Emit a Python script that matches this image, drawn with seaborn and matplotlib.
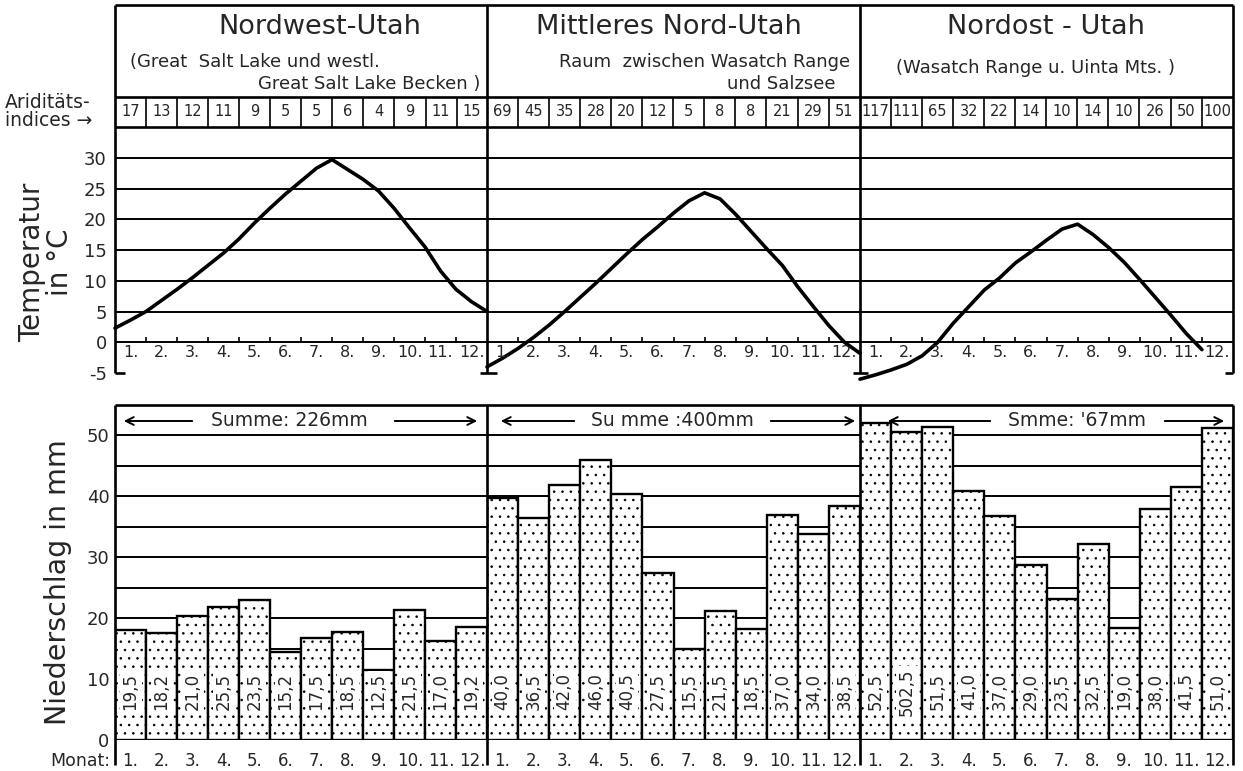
#
#   Klimadiagramme Utah: Ariditaetsindices, Temperatur und Niederschlag
#

import numpy as np
import pandas as pd
import matplotlib
matplotlib.use("Agg")
import matplotlib.pyplot as plt
import seaborn as sns

# ---- data ----
months = list(range(1, 13))
month_labels = [f"{m}." for m in months]

titles = ["Nordwest-Utah", "Mittleres Nord-Utah", "Nordost - Utah"]

aridity_nw = [17, 13, 12, 11, 9, 5, 5, 6, 4, 9, 11, 15]
aridity_mid = [69, 45, 35, 28, 20, 12, 5, 8, 8, 21, 29, 51]
aridity_ne = [117, 111, 65, 32, 22, 14, 10, 14, 10, 26, 50, 100]

# temperature curve read every half month (x = month)
temp_x = [0.5, 1.0, 1.5, 2.0, 2.5, 3.0, 3.5, 4.0, 4.5, 5.0, 5.5, 6.0, 6.5,
          7.0, 7.5, 8.0, 8.5, 9.0, 9.5, 10.0, 10.5, 11.0, 11.5, 12.0, 12.5]
temp_nw = [2.3, 3.6, 5.0, 6.8, 8.6, 10.5, 12.5, 14.5, 16.8, 19.4, 21.8, 24.1, 26.2,
           28.3, 29.7, 28.1, 26.5, 24.6, 21.8, 18.6, 15.5, 11.6, 8.6, 6.6, 5.0]
temp_mid = [-4.0, -2.6, -1.0, 0.8, 2.8, 5.0, 7.3, 9.6, 12.0, 14.4, 16.7, 18.8, 21.0,
            23.0, 24.3, 23.3, 20.8, 18.0, 15.2, 12.5, 9.0, 5.8, 2.7, 0.0, -1.8]
temp_ne = [-6.0, -5.3, -4.5, -3.6, -2.2, 0.0, 3.1, 5.8, 8.5, 10.5, 12.9, 14.7, 16.6,
           18.4, 19.2, 17.5, 15.4, 13.0, 10.2, 7.3, 4.4, 1.4, -1.2, np.nan, np.nan]

# bar heights as drawn, and the numbers printed in the bars
precip_nw = [18.1, 17.5, 20.3, 21.9, 23.0, 14.5, 16.7, 17.7, 11.5, 21.3, 16.3, 18.6]
precip_mid = [39.8, 36.5, 41.9, 45.9, 40.4, 27.4, 14.9, 21.1, 18.2, 36.9, 33.9, 38.4]
precip_ne = [52.1, 50.5, 51.4, 40.8, 36.8, 28.7, 23.1, 32.2, 18.4, 38.0, 41.5, 51.3]

label_nw = ["19,5", "18,2", "21,0", "25,5", "23,5", "15,2", "17,5", "18,5", "12,5", "21,5", "17,0", "19,2"]
label_mid = ["40,0", "36,5", "42,0", "46,0", "40,5", "27,5", "15,5", "21,5", "18,5", "37,0", "34,0", "38,5"]
label_ne = ["52,5", "502,5", "51,5", "41,0", "37,0", "29,0", "23,5", "32,5", "19,0", "38,0", "41,5", "51,0"]

sums = ["Summe: 226mm", "Su mme :400mm", "Smme: '67mm"]

aridity = [aridity_nw, aridity_mid, aridity_ne]
temps = [temp_nw, temp_mid, temp_ne]
precips = [precip_nw, precip_mid, precip_ne]
labels = [label_nw, label_mid, label_ne]

# ---- layout (pixels) ----
W, H = 1243, 771
PX = [115, 487, 860, 1233]
MW = (PX[3] - PX[0]) / 36.0


def rect(x0, y0, x1, y1):
    return [x0 / W, 1 - y1 / H, (x1 - x0) / W, (y1 - y0) / H]


sns.set_style("white")
plt.rcParams["font.family"] = ["DejaVu Sans"]
plt.rcParams["hatch.linewidth"] = 0.6

fig = plt.figure(figsize=(W / 100, H / 100), dpi=100)

for i in range(3):
    # temperature
    ax_t = fig.add_axes(rect(PX[i], 127, PX[i + 1], 373))
    for v in range(0, 31, 5):
        ax_t.axhline(v, color="k", lw=1.4, zorder=1)
    ax_t.vlines(np.arange(1.5, 12.5), 0, 0.9, color="k", lw=1.2)
    df_t = pd.DataFrame({"Monat": temp_x, "Temperatur": temps[i]})
    sns.lineplot(data=df_t, x="Monat", y="Temperatur", ax=ax_t, color="k",
                 lw=2.6, clip_on=False, zorder=3, solid_joinstyle="round",
                 solid_capstyle="round")
    for m, lab in zip(months, month_labels):
        ax_t.text(m, -1.7, lab, ha="center", va="center", fontsize=11.5)
    ax_t.set_xlim(0.5, 12.5)
    ax_t.set_ylim(-5, 35)
    ax_t.set(xlabel="", ylabel="")
    ax_t.set_xticks([])

    # precipitation
    ax_p = fig.add_axes(rect(PX[i], 405, PX[i + 1], 740))
    for v in range(5, 51, 5):
        ax_p.axhline(v, color="k", lw=1.4, zorder=0)
    df_p = pd.DataFrame({"Monat": months, "Niederschlag": precips[i]})
    sns.barplot(data=df_p, x="Monat", y="Niederschlag", ax=ax_p, native_scale=True,
                width=1, color="white", saturation=1, edgecolor="k", linewidth=1.7,
                hatch="..", errorbar=None, zorder=2)
    for m, lab in zip(months, labels[i]):
        ax_p.text(m, 7.9, lab, rotation=90, ha="center", va="center", fontsize=12,
                  zorder=4, bbox=dict(fc="white", ec="none", pad=1.5))
    ax_p.set_xlim(0.5, 12.5)
    ax_p.set_ylim(0, 55)
    ax_p.set(xlabel="", ylabel="")
    ax_p.set_xticks([])

    for ax in (ax_t, ax_p):
        for s in ax.spines.values():
            s.set_visible(False)
        ax.patch.set_visible(False)
        ax.tick_params(length=0)

    if i == 0:
        ax_t.set_yticks(range(-5, 31, 5), labels=[str(v) for v in range(-5, 31, 5)])
        ax_t.tick_params(axis="y", pad=6, labelsize=13)
        ax_p.set_yticks(range(0, 51, 10), labels=[str(v) for v in range(0, 51, 10)])
        ax_p.tick_params(axis="y", pad=4, labelsize=13)
    else:
        ax_t.set_yticks([])
        ax_p.set_yticks([])

# ---- overlay in pixel coordinates: frames and texts ----
ov = fig.add_axes([0, 0, 1, 1])
ov.set_xlim(0, W)
ov.set_ylim(H, 0)
ov.axis("off")

lw_f = 1.9
ov.hlines([5, 97, 127, 405], PX[0], PX[3], color="k", lw=lw_f)
ov.vlines(PX, 5, 373, color="k", lw=lw_f)
ov.vlines(PX, 405, 765, color="k", lw=lw_f)
ov.hlines([373] * 4, [115, 480, 853, 1225], [125, 497, 868, 1233], color="k", lw=lw_f)
for i in range(3):
    for k in range(1, 12):
        ov.vlines(PX[i] + k * MW, 97, 127, color="k", lw=1.2)
    for m, a in zip(months, aridity[i]):
        ov.text(PX[i] + (m - 0.5) * MW, 112, str(a), ha="center", va="center",
                fontsize=10.5)
    for m, lab in zip(months, month_labels):
        ov.text(PX[i] + (m - 0.5) * MW, 761, lab, ha="center", va="center",
                fontsize=12)

# headers
ov.text(320, 27, titles[0], ha="center", va="center", fontsize=19.5)
ov.text(130, 62, "(Great  Salt Lake und westl.", ha="left", va="center", fontsize=13)
ov.text(480, 84, "Great Salt Lake Becken )", ha="right", va="center", fontsize=13)
ov.text(669, 27, titles[1], ha="center", va="center", fontsize=19.5)
ov.text(850, 62, "Raum  zwischen Wasatch Range", ha="right", va="center", fontsize=13)
ov.text(836, 84, "und Salzsee", ha="right", va="center", fontsize=13)
ov.text(1046, 27, titles[2], ha="center", va="center", fontsize=19.5)
ov.text(1036, 68, "(Wasatch Range u. Uinta Mts. )", ha="center", va="center", fontsize=13)

# left labels
ov.text(5, 103, "Ariditäts-", ha="left", va="center", fontsize=13.5)
ov.text(5, 121, "indices \u2192", ha="left", va="center", fontsize=13.5)
ov.text(46, 262, "Temperatur\nin °C", rotation=90, ha="center", va="center",
        fontsize=20, linespacing=1.0)
ov.text(58, 582, "Niederschlag in mm", rotation=90, ha="center", va="center", fontsize=20.5)
ov.text(110, 761, "Monat:", ha="right", va="center", fontsize=12.5)

# sums with arrows
sum_geo = [(121, 195, 289, 392, 480), (498, 577, 672, 768, 858), (885, 993, 1077, 1162, 1227)]
arrow = dict(arrowstyle="->", color="k", lw=1.4, mutation_scale=14)
for txt, (l_head, l_tail, xc, r_tail, r_head) in zip(sums, sum_geo):
    ov.annotate("", xy=(l_head, 421), xytext=(l_tail, 421), arrowprops=arrow)
    ov.annotate("", xy=(r_head, 421), xytext=(r_tail, 421), arrowprops=arrow)
    ov.text(xc, 421, txt, ha="center", va="center", fontsize=13.5)

fig.savefig("out.png", dpi=100, facecolor="white")
